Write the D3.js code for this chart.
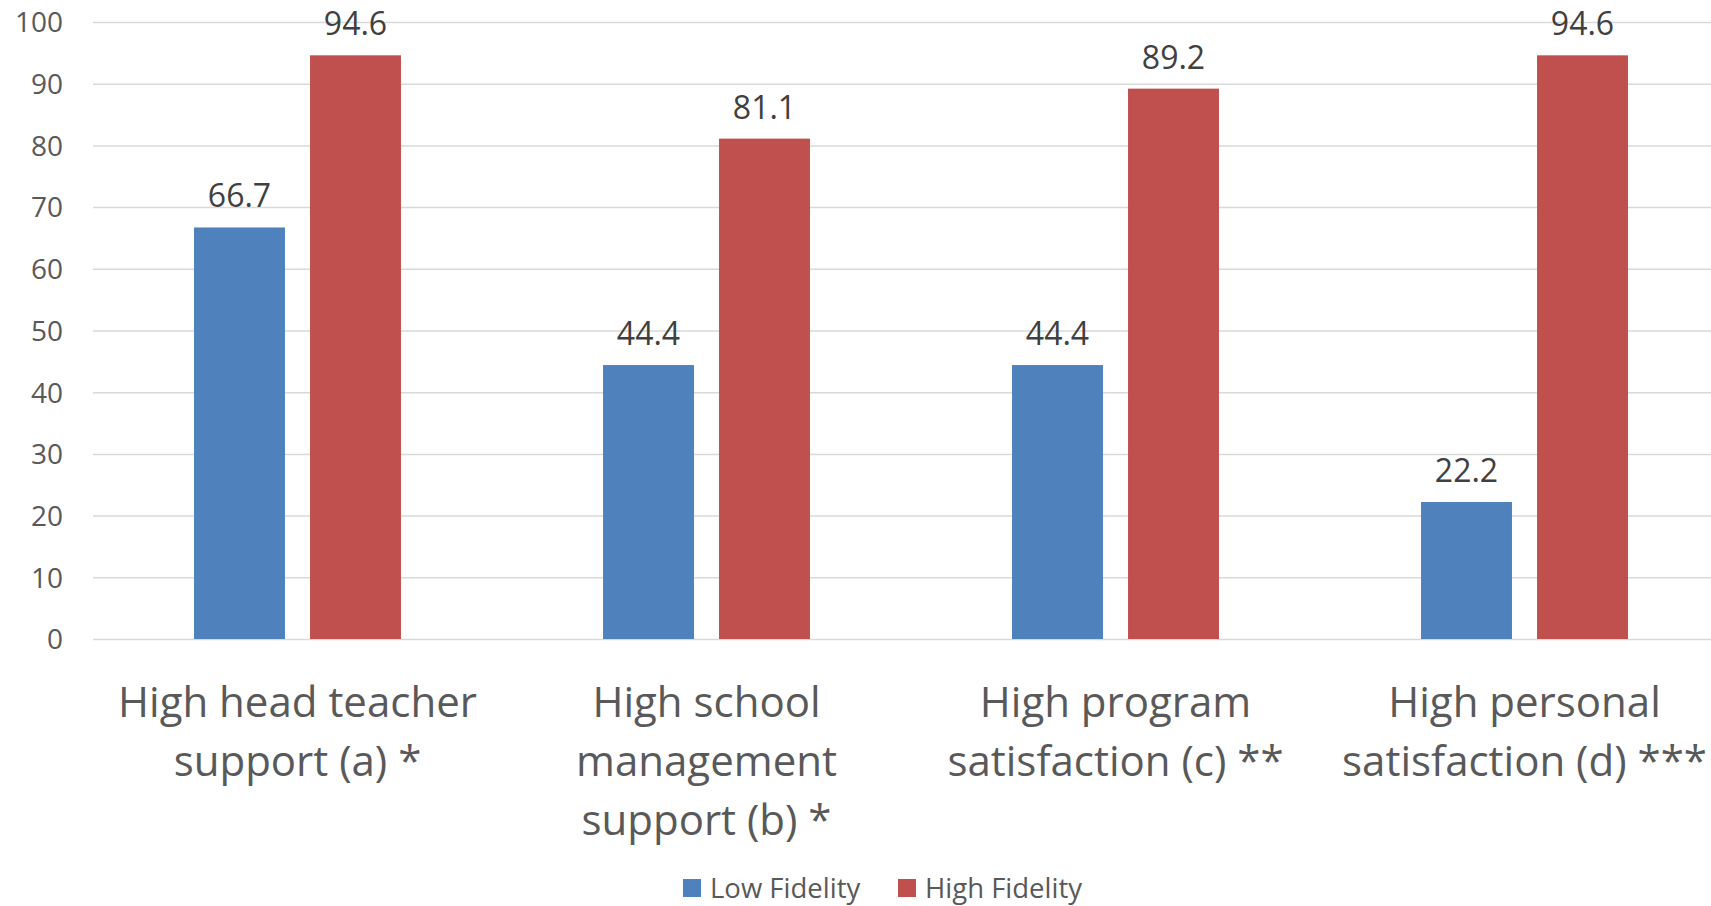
<!DOCTYPE html>
<html>
<head>
<meta charset="utf-8">
<script src="https://cdn.jsdelivr.net/npm/d3@7"></script>
<style>
  html, body { margin: 0; padding: 0; background: #fff; overflow: hidden; }
  svg { display: block; font-family: "Open Sans", sans-serif; }
</style>
</head>
<body>
<svg id="chart" width="1711" height="906"></svg>
<script>
// ---- data ----
const categories = ["head", "school", "program", "personal"];
const categoryLines = [
  ["High head teacher", "support (a) *"],
  ["High school", "management", "support (b) *"],
  ["High program", "satisfaction (c) **"],
  ["High personal", "satisfaction (d) ***"]
];
const seriesNames = ["Low Fidelity", "High Fidelity"];
const lowFidelity = [66.7, 44.4, 44.4, 22.2];
const highFidelity = [94.6, 81.1, 89.2, 94.6];
const yTicks = [0, 10, 20, 30, 40, 50, 60, 70, 80, 90, 100];
const seriesColors = ["#4f81bd", "#c0504d"];

// ---- layout ----
const W = 1711, H = 906;
const plotLeft = 93, plotRight = 1729, plotTop = 22, plotBottom = 639;

const svg = d3.select("#chart");

const x0 = d3.scaleBand().domain(categories).range([plotLeft, plotRight]).paddingInner(0).paddingOuter(0);
const x1 = d3.scaleBand().domain(seriesNames).range([0, x0.bandwidth()]).paddingInner(0.216).paddingOuter(0.871);
const y = d3.scaleLinear().domain([0, 100]).range([plotBottom, plotTop]);
const color = d3.scaleOrdinal().domain(seriesNames).range(seriesColors);

// gridlines
const yAxis = d3.axisLeft(y).tickValues(yTicks).tickSize(-(W - plotLeft)).tickPadding(30).tickFormat(d3.format("d"));
const gAxis = svg.append("g").attr("transform", `translate(${plotLeft},0)`).call(yAxis);
gAxis.select(".domain").remove();
gAxis.selectAll(".tick line").attr("stroke", "#d9d9d9").attr("stroke-width", 1.5);
gAxis.selectAll(".tick text")
  .attr("fill", "#595959")
  .style("font-size", "28px")
  .attr("font-family", "'Open Sans', sans-serif")
  .attr("dy", "0.35em");

// bars
const rows = categories.map((c, i) => ({ cat: c, values: [
  { series: seriesNames[0], value: lowFidelity[i] },
  { series: seriesNames[1], value: highFidelity[i] }
]}));

const groups = svg.append("g").selectAll("g").data(rows).join("g")
  .attr("transform", d => `translate(${x0(d.cat)},0)`);

groups.selectAll("rect").data(d => d.values).join("rect")
  .attr("x", d => x1(d.series))
  .attr("width", x1.bandwidth())
  .attr("y", d => y(d.value))
  .attr("height", d => y(0) - y(d.value))
  .attr("fill", d => color(d.series));

groups.selectAll("text.val").data(d => d.values).join("text")
  .attr("class", "val")
  .attr("x", d => x1(d.series) + x1.bandwidth() / 2)
  .attr("y", d => y(d.value) - 20)
  .attr("text-anchor", "middle")
  .attr("fill", "#404040")
  .style("font-size", "32px")
  .text(d => d.value.toFixed(1));

// category labels
const catG = svg.append("g");
categories.forEach((c, i) => {
  const t = catG.append("text")
    .attr("x", x0(c) + x0.bandwidth() / 2)
    .attr("y", 717)
    .attr("text-anchor", "middle")
    .attr("fill", "#595959")
    .style("font-size", "42px");
  categoryLines[i].forEach((line, j) => {
    t.append("tspan")
      .attr("x", x0(c) + x0.bandwidth() / 2)
      .attr("dy", j === 0 ? 0 : 59)
      .text(line);
  });
});

// legend
const legendItems = [
  { name: seriesNames[0], x: 683 },
  { name: seriesNames[1], x: 898 }
];
const lg = svg.append("g").selectAll("g").data(legendItems).join("g")
  .attr("transform", d => `translate(${d.x},879)`);
lg.append("rect").attr("width", 18).attr("height", 18).attr("fill", d => color(d.name));
lg.append("text")
  .attr("x", 27).attr("y", 9).attr("dy", "0.36em")
  .attr("fill", "#595959")
  .style("font-size", "27.5px")
  .text(d => d.name);
</script>
</body>
</html>
